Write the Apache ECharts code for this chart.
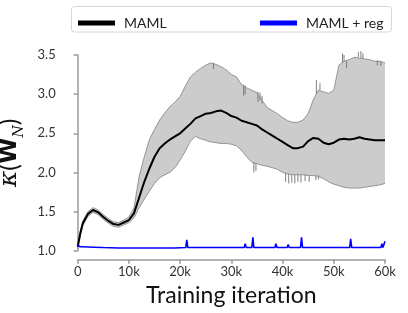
<!DOCTYPE html>
<html>
<head>
<meta charset="utf-8">
<script src="https://cdn.jsdelivr.net/npm/echarts@6/dist/echarts.min.js"></script>
<style>html,body{margin:0;padding:0;background:#fff}#c{width:408px;height:313px}</style>
</head>
<body>
<div id="c"></div>
<script>
// Training iterations (in iterations)
var iters = [0,500,1000,2000,3000,4000,5000,6000,7000,8000,9000,10000,11000,12000,13000,14000,15000,16000,17000,18000,19000,20000,21000,22000,23000,24000,25000,26000,27000,28000,29000,30000,31000,32000,33000,34000,35000,36000,37000,38000,39000,40000,41000,42000,43000,44000,45000,46000,47000,48000,49000,50000,51000,52000,53000,54000,55000,56000,57000,58000,59000,60000];
var mamlMean = [1.05,1.22,1.35,1.47,1.52,1.49,1.43,1.38,1.34,1.33,1.36,1.39,1.48,1.68,1.88,2.05,2.20,2.31,2.37,2.42,2.46,2.50,2.56,2.62,2.69,2.72,2.75,2.76,2.78,2.79,2.76,2.72,2.70,2.66,2.64,2.62,2.60,2.55,2.51,2.47,2.43,2.39,2.35,2.31,2.31,2.33,2.40,2.44,2.43,2.38,2.36,2.38,2.42,2.43,2.42,2.43,2.45,2.43,2.42,2.41,2.41,2.41];
var mamlUpper = [1.07,1.25,1.38,1.50,1.55,1.52,1.46,1.41,1.37,1.36,1.39,1.43,1.55,1.95,2.20,2.42,2.55,2.67,2.76,2.84,2.90,2.97,3.10,3.22,3.28,3.33,3.37,3.40,3.38,3.35,3.31,3.25,3.22,3.12,3.08,3.05,3.02,2.92,2.83,2.79,2.75,2.70,2.66,2.64,2.64,2.67,2.75,2.93,3.05,3.03,3.01,3.05,3.37,3.42,3.44,3.47,3.46,3.45,3.44,3.42,3.42,3.40];
var mamlLower = [1.03,1.19,1.32,1.44,1.49,1.46,1.40,1.35,1.31,1.30,1.33,1.36,1.42,1.55,1.66,1.76,1.86,1.93,1.97,2.00,2.06,2.16,2.27,2.40,2.46,2.43,2.41,2.39,2.38,2.37,2.37,2.36,2.34,2.28,2.20,2.13,2.11,2.09,2.08,2.06,2.04,2.00,1.98,1.97,1.97,1.97,1.96,1.96,1.95,1.92,1.88,1.85,1.83,1.81,1.80,1.80,1.80,1.81,1.82,1.83,1.84,1.86];
// Vertical spikes on the band edges: [iteration, from, to]
var edgeSpikes = [[26500,3.40,3.32],[32400,3.12,2.98],[32700,3.11,3.00],[35200,3.03,2.90],[35600,3.02,2.92],[36000,2.98,2.88],[34400,2.13,2.00],[34800,2.12,2.02],[40600,1.99,1.88],[41200,1.98,1.86],[41800,1.97,1.87],[42400,1.97,1.86],[43000,1.97,1.88],[43600,1.97,1.87],[44400,1.97,1.89],[45200,1.96,1.88],[46500,1.96,1.90],[47000,1.96,1.91],[46600,3.00,3.18],[47300,3.05,3.14],[51700,3.40,3.52],[52000,3.42,3.50],[52500,3.42,3.33],[54800,3.47,3.54],[55300,3.46,3.55],[55700,3.45,3.52],[58500,3.43,3.37],[59200,3.42,3.36]];
// MAML + reg
var regIters = [0,500,1000,3000,5000,8000,10000,13000,16000,19000,21100,21300,21500,24000,27000,30000,32500,32700,32900,34000,34200,34400,36000,38500,38700,38900,40900,41100,41300,43500,43700,43900,46000,49000,51000,53100,53300,53500,56000,58000,59200,59400,59600,59800,60000];
var regVals = [1.07,1.05,1.05,1.045,1.04,1.035,1.035,1.035,1.035,1.035,1.04,1.14,1.04,1.04,1.04,1.04,1.04,1.09,1.04,1.04,1.17,1.04,1.04,1.04,1.09,1.04,1.04,1.08,1.04,1.04,1.17,1.04,1.04,1.04,1.04,1.04,1.15,1.04,1.04,1.04,1.04,1.09,1.04,1.06,1.12];
var xTickLabels = ['0','10k','20k','30k','40k','50k','60k'];
var yTickLabels = ['1.0','1.5','2.0','2.5','3.0','3.5'];

function pairs(xs, ys){ return xs.map(function(x,i){ return [x, ys[i]]; }); }
var bandData = iters.map(function(x,i){ return [x, mamlLower[i], mamlUpper[i]]; });

var FONT = 'Lato';
var chart = echarts.init(document.getElementById('c'), null, {renderer:'canvas'});
chart.setOption({
  animation:false,
  backgroundColor:'#fff',
  textStyle:{fontFamily:FONT},
  grid:{left:77.7, right:23, top:55, bottom:62.3, containLabel:false, outerBoundsMode:'none'},
  graphic:[{type:'rect', shape:{x:71.5, y:6.5, width:320, height:25.5, r:3}, style:{fill:'#fff', stroke:'#d6d6d6', lineWidth:1}, z:-1}],
  legend:[
    {data:['MAML'], left:73, top:11, itemWidth:37, itemHeight:5, itemGap:0, icon:'rect', textStyle:{fontFamily:FONT, fontSize:14, color:'#222', padding:[0,0,0,4]}},
    {data:['MAML + reg'], left:255, top:11, itemWidth:37, itemHeight:5, icon:'rect', textStyle:{fontFamily:FONT, fontSize:14, color:'#222', padding:[0,0,0,4]}}
  ],
  xAxis:{
    type:'value', min:0, max:60000, interval:10000, offset:9,
    name:'Training iteration', nameLocation:'middle', nameGap:19,
    nameTextStyle:{fontFamily:FONT, fontSize:23, color:'#111'},
    axisLine:{lineStyle:{color:'#999', width:1.5}},
    axisTick:{length:4, lineStyle:{color:'#999', width:1.5}},
    axisLabel:{margin:6, fontSize:13, color:'#333', fontFamily:FONT, formatter:function(v){ return xTickLabels[Math.round(v/10000)]; }},
    splitLine:{show:false}
  },
  yAxis:{
    type:'value', min:1.0, max:3.5, interval:0.5, offset:16,
    name:'{k|κ}{p|(}{w|W}{s|N}{p|)}', nameLocation:'middle', nameGap:29, nameRotate:90,
    nameTextStyle:{rich:{
      k:{fontFamily:'DejaVu Serif', fontStyle:'italic', fontSize:25, color:'#111'},
      p:{fontFamily:FONT, fontSize:25, color:'#111'},
      w:{fontFamily:'DejaVu Sans', fontWeight:'bold', fontSize:24, color:'#111'},
      s:{fontFamily:'DejaVu Serif', fontStyle:'italic', fontSize:14, color:'#111', verticalAlign:'bottom', lineHeight:34}
    }},
    axisLine:{show:true, lineStyle:{color:'#999', width:1.5}},
    axisTick:{show:true, length:4, lineStyle:{color:'#999', width:1.5}},
    axisLabel:{margin:6, fontSize:13, color:'#333', fontFamily:FONT, formatter:function(v){ return yTickLabels[Math.round((v-1)/0.5)]; }},
    splitLine:{show:false}
  },
  series:[
    {name:'band', type:'custom', data:bandData, encode:{x:0, y:[1,2]}, silent:true, z:1,
      renderItem:function(params, api){
        if (params.dataIndex !== 0) return null;
        var top = [], bot = [];
        for (var i = 0; i < bandData.length; i++) {
          top.push(api.coord([bandData[i][0], bandData[i][2]]));
          bot.push(api.coord([bandData[i][0], bandData[i][1]]));
        }
        return {type:'polygon', shape:{points: top.concat(bot.reverse())}, style:{fill:'#cccccc', stroke:null}};
      }},
    {name:'upperEdge', type:'line', data:pairs(iters, mamlUpper), symbol:'none', z:2, lineStyle:{color:'#808080', width:0.8}},
    {name:'lowerEdge', type:'line', data:pairs(iters, mamlLower), symbol:'none', z:2, lineStyle:{color:'#808080', width:0.8}},
    {name:'spikes', type:'custom', data:edgeSpikes, encode:{x:0, y:[1,2]}, z:2,
      renderItem:function(params, api){
        var a = api.coord([api.value(0), api.value(1)]);
        var b = api.coord([api.value(0), api.value(2)]);
        return {type:'line', shape:{x1:a[0], y1:a[1], x2:b[0], y2:b[1]}, style:{stroke:'#707070', lineWidth:0.9}};
      }},
    {name:'MAML', type:'line', data:pairs(iters, mamlMean), symbol:'none', z:3, color:'#000', lineStyle:{color:'#000', width:2}},
    {name:'MAML + reg', type:'line', data:pairs(regIters, regVals), symbol:'none', z:3, color:'#0000ff', lineStyle:{color:'#0000ff', width:1.6}}
  ]
});
</script>
</body>
</html>
